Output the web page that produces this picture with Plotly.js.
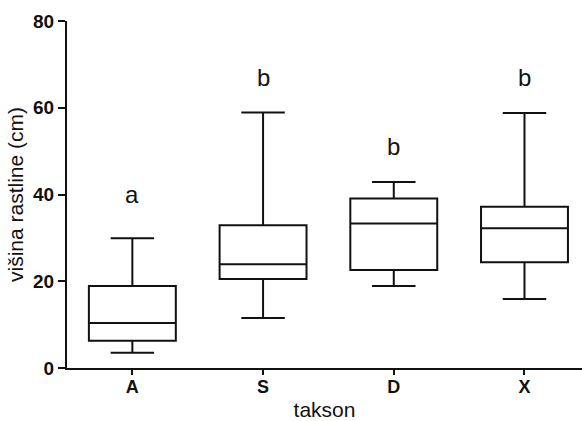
<!DOCTYPE html>
<html>
<head>
<meta charset="utf-8">
<script src="https://cdn.plot.ly/plotly-3.0.1.min.js"></script>
<style>html,body{margin:0;padding:0;background:#fff;}#chart{width:582px;height:421px;}</style>
</head>
<body>
<div id="chart"></div>
<script>
const categories = ['A', 'S', 'D', 'X'];
const lowerWhisker = [3.5, 11.5, 18.9, 15.9];
const q1Values = [6.3, 20.5, 22.6, 24.4];
const medianValues = [10.4, 23.9, 33.3, 32.2];
const q3Values = [18.9, 32.9, 39.1, 37.2];
const upperWhisker = [29.9, 58.9, 42.9, 58.8];
const groupLetters = ['a', 'b', 'b', 'b'];
const letterHeights = [40.0, 67.0, 51.0, 67.0];

const FONT = 'Liberation Sans, Arial, Helvetica, sans-serif';

const trace = {
  type: 'box',
  x: categories,
  q1: q1Values,
  median: medianValues,
  q3: q3Values,
  lowerfence: lowerWhisker,
  upperfence: upperWhisker,
  boxpoints: false,
  width: 0.665,
  whiskerwidth: 0.5,
  fillcolor: 'rgba(255,255,255,0)',
  line: {color: '#111', width: 2},
  hoverinfo: 'skip',
  showlegend: false
};

const annotations = categories.map((c, i) => ({
  x: c, y: letterHeights[i], xref: 'x', yref: 'y',
  text: groupLetters[i], showarrow: false,
  font: {family: FONT, size: 24, color: '#111'}
}));

const layout = {
  width: 582, height: 421,
  margin: {l: 67, r: 0, t: 21, b: 53},
  paper_bgcolor: '#fff', plot_bgcolor: '#fff',
  font: {family: FONT, color: '#111'},
  xaxis: {
    type: 'category',
    categoryarray: categories,
    range: [-0.5, 3.44],
    showline: true, linecolor: '#111', linewidth: 2,
    ticks: 'outside', ticklen: 5, tickwidth: 2, tickcolor: '#111',
    ticklabelstandoff: -4,
    showgrid: false, zeroline: false,
    tickfont: {family: FONT, size: 18, weight: 'bold', color: '#111'},
    title: {text: 'takson', font: {family: FONT, size: 21, color: '#111'}, standoff: 10}
  },
  yaxis: {
    range: [0, 80],
    dtick: 20,
    showline: true, linecolor: '#111', linewidth: 2,
    ticks: 'outside', ticklen: 7, tickwidth: 2, tickcolor: '#111',
    showgrid: false, zeroline: false,
    tickfont: {family: FONT, size: 19, weight: 'bold', color: '#111'},
    title: {text: 'višina rastline (cm)', font: {family: FONT, size: 21, color: '#111'}, standoff: 4}
  },
  annotations: annotations
};

Plotly.newPlot('chart', [trace], layout, {displayModeBar: false, staticPlot: true});
</script>
</body>
</html>
